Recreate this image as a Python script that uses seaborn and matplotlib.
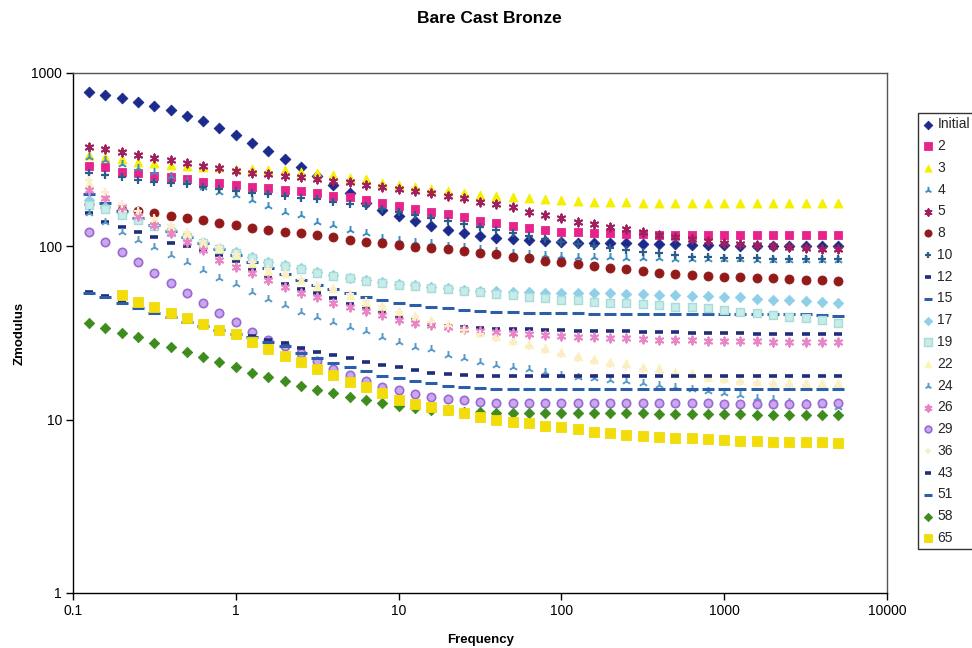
import numpy as np
import pandas as pd
import matplotlib
matplotlib.use("Agg")
import matplotlib.pyplot as plt
from matplotlib.ticker import FixedLocator, FixedFormatter, NullLocator
import seaborn as sns

# Measurement frequencies (Hz), 10 points per decade
freq = [0.126, 0.158, 0.2, 0.251, 0.316, 0.398, 0.501, 0.631, 0.794, 1.0,
        1.26, 1.58, 2.0, 2.51, 3.16, 3.98, 5.01, 6.31, 7.94, 10.0,
        12.6, 15.8, 20.0, 25.1, 31.6, 39.8, 50.1, 63.1, 79.4, 100.0,
        126, 158, 200, 251, 316, 398, 501, 631, 794, 1000,
        1259, 1585, 1995, 2512, 3162, 3981, 5012]

# Impedance modulus for each exposure
z_initial = [774, 747, 714, 683, 645, 609, 565, 528, 482, 439, 396, 355, 318, 286, 255, 226, 202, 178, 162, 150,
             140, 131, 124, 120, 115, 112, 110, 109, 107, 105.5, 105, 105, 104.5, 104, 103,
             103, 102.5, 102, 102, 101.5, 101, 101, 101, 100.5, 100, 100, 100]
z_2 = [291, 286, 269.5, 264, 255, 250, 244.5, 236, 231, 226, 221, 216, 211, 209, 204, 195, 192, 185, 178.5, 171,
       164, 158.5, 153, 147, 140.5, 135.5, 131.5, 127, 124, 121.5, 120.5, 120, 119, 118, 117.5,
       117, 116.7, 116.2, 116.2, 116.2, 116.2, 116, 116, 116, 116, 116, 116]
z_3 = [336, 327.5, 319, 308, 302.5, 296.5, 292.5, 288.5, 285, 281, 279, 277.5, 275.5, 270, 265, 258, 249.5, 243.5, 231, 226,
       219, 213, 208.5, 204, 197.5, 195, 192, 189, 186.5, 185, 183.3, 181, 180, 179.5, 178.5,
       178.5, 178.5, 178, 178, 178, 178, 178, 178, 178, 178, 178, 178]
z_4 = [327.5, 315, 298.5, 283, 268.5, 255, 238, 219, 206, 197.5, 185, 171, 158.5, 151.5, 138.5, 132.5, 124, 119.5, 111.5, 109,
       106.5, 104, 101, 98.5, 96, 94, 92, 90.3, 89, 88, 87.3, 86.8, 86.4, 86.1, 85.6,
       85.2, 85, 84.7, 84.5, 84.5, 84.1, 83.8, 83.6, 83.6, 83.4, 83.4, 83.4]
z_5 = [372.5, 363, 351.5, 336, 324.5, 315, 301, 291, 282, 272, 266, 261.5, 256, 251, 243, 239, 233.5, 227, 220, 215.5,
       209.5, 202, 195, 189, 181, 175, 168, 158.5, 151.5, 145, 138.5, 134.5, 130, 125.5, 121.5,
       116, 113, 110, 107.5, 105, 103, 101.5, 100.5, 99, 98, 97, 96.5]
z_8 = [175.5, 168.5, 163, 159, 155, 150, 145, 142, 137, 132.5, 127, 124, 121.5, 119, 116, 112.5, 109.5, 106.5, 104, 101.5,
       99.5, 98, 96, 94.5, 92, 90.3, 87, 85.3, 82.3, 81, 79, 77, 74.7, 73.7, 72.3,
       70.4, 69.2, 68.3, 67.4, 66.8, 66.2, 65.9, 65.4, 64.5, 63.9, 63.9, 63.1]
z_10 = [266, 258, 250, 241, 236, 233, 229, 221, 214, 208.5, 204, 199.5, 195, 190.5, 186.5, 180, 176.5, 171, 165, 158,
        151.5, 145.5, 140, 134.5, 129.5, 124, 119.5, 114.5, 110, 106.5, 103, 100.5, 98, 95, 93.3,
        91, 89, 87.3, 86.8, 86, 85.6, 85.6, 85, 85, 84.5, 84.5, 84.5]
z_12 = [155, 138.5, 130, 121.5, 113.5, 105, 100.5, 95, 89, 82.3, 73.7, 66.5, 61, 57, 53.5, 50.3, 46.5, 44.5, 42, 39.3,
        37.5, 35.5, 34.7, 34.4, 33.6, 33.2, 33.2, 33.2, 32.9, 32.9, 32.6, 32.4, 32.4, 32.4, 32.2,
        32, 32, 31.8, 31.8, 31.6, 31.6, 31.4, 31.4, 31.4, 31.4, 31.4, 31.4]
z_15 = [200, 177, 160, 145.5, 132.5, 122.5, 113, 104.5, 96.5, 89, 81, 75, 69, 64, 60, 57, 53.5, 51, 49, 47.3,
        45.8, 44.8, 43.9, 42.9, 42.3, 41.9, 41.6, 41.5, 41.3, 41.2, 41, 40.9, 40.7, 40.7, 40.7,
        40.7, 40.7, 40.7, 40.7, 40.7, 40.7, 40.7, 40.7, 40.7, 40.7, 40.1, 39.6]
z_17 = [185, 168.5, 155.5, 143.5, 132.5, 123.5, 114.5, 106, 98, 93, 87, 81.5, 78, 74.7, 71.4, 68.3, 66, 64, 62, 60.5,
        59.8, 58.5, 57.5, 56.3, 55.6, 55, 54.5, 54.2, 53.8, 53.8, 53.8, 53.8, 53.6, 53.4, 53,
        52.7, 52.4, 52, 51.7, 51, 50.7, 50, 49.3, 49, 48.3, 47.7, 47.3]
z_19 = [173, 164, 151.5, 141, 131, 121.5, 113, 104.5, 96.5, 92, 85.6, 80.6, 77.5, 74, 70.6, 67.8, 65.4, 63.3, 61.4, 60.2,
        59, 57.8, 56.7, 55.6, 54.5, 53.4, 52.4, 51.3, 50.3, 49.3, 48.7, 48, 47.3, 46.9, 46.3,
        45.8, 44.8, 44.5, 43.9, 42.9, 41.9, 41, 40.1, 39.3, 38.4, 37.6, 36.1]
z_22 = [231, 197.5, 169, 158.5, 143.5, 130, 119, 105, 97.4, 89, 80, 72.3, 70, 64, 59, 57.2, 52.4, 47.9, 45.2, 42.3,
        39.6, 37.6, 35.6, 33.8, 32, 30.4, 28.8, 27.3, 25.9, 24.5, 23.4, 22.5, 21.6, 21.1, 20.2,
        19.8, 18.9, 18.5, 17.7, 17.3, 16.9, 16.7, 16.5, 16.4, 16.3, 16.2, 16.2]
z_24 = [155, 138.5, 121.5, 109.5, 99.5, 89, 81.5, 73, 66, 60.5, 54.7, 49.6, 45.6, 41.9, 39.3, 36.6, 34.2, 32.3, 29.8, 28.2,
        26.3, 25.5, 23.6, 22.6, 21.6, 20.7, 20.2, 19.5, 18.9, 18.1, 17.7, 17.3, 16.9, 16.7, 16.3,
        15.8, 15.4, 15, 14.6, 14.2, 13.8, 13.4, 13.1, 12.7, 12.5, 12.1, 11.9]
z_26 = [211, 189, 168.5, 150, 132.5, 119, 106.5, 95, 83.5, 76.3, 70, 64, 58.5, 53.6, 51.2, 47.1, 44.8, 42.3, 40.1, 37.6,
        36.2, 35.1, 34.4, 33.2, 32.6, 32.2, 31.7, 31.4, 30.8, 30.4, 30.1, 29.8, 29.5, 29.5, 29.1,
        28.9, 28.8, 28.7, 28.5, 28.4, 28.4, 28.3, 28.2, 28.1, 28.1, 28.1, 28.1]
z_29 = [121.5, 106.5, 93, 81.5, 70.4, 61.2, 53.6, 46.9, 41, 36.6, 32.2, 28.8, 26.6, 24.2, 21.8, 19.7, 18.1, 16.8, 15.5, 14.8,
        14, 13.6, 13.1, 12.9, 12.7, 12.5, 12.4, 12.4, 12.4, 12.4, 12.4, 12.4, 12.4, 12.4, 12.4,
        12.4, 12.4, 12.4, 12.4, 12.3, 12.3, 12.3, 12.3, 12.3, 12.3, 12.4, 12.4]
z_36 = [240, 205, 176, 160, 146, 133, 121, 108, 99, 90, 81, 74, 69.5, 65, 60, 57, 53, 48.5, 45, 42,
        39, 36.8, 34.8, 33, 31.3, 29.6, 28, 26.6, 25.2, 23.9, 22.8, 21.8, 20.9, 20.2, 19.5,
        18.9, 18.3, 17.8, 17.3, 16.9, 16.6, 16.3, 16.1, 15.9, 15.8, 15.7, 15.6]
z_43 = [54.7, 51.7, 47.9, 44.5, 41.9, 39.6, 37.1, 35.1, 33.1, 31.6, 30.4, 28.8, 27.6, 25.8, 24.7, 23.6, 22.6, 21.6, 20.7, 20,
        19.3, 18.7, 18.3, 18.1, 17.9, 17.8, 17.8, 17.8, 17.8, 17.8, 17.8, 17.8, 17.8, 17.8, 17.8,
        17.8, 17.8, 17.8, 17.8, 17.8, 17.8, 17.8, 17.8, 17.8, 17.8, 17.8, 17.8]
z_51 = [54.1, 51, 47.4, 44.1, 41.5, 39.1, 36.6, 34.7, 32.7, 31.2, 29.8, 28.2, 26.6, 24.1, 22.6, 21.1, 20, 19.1, 17.9, 17.3,
        16.8, 16.2, 15.6, 15.4, 15.2, 15.1, 15.1, 15.1, 15.1, 15.1, 15.1, 15.1, 15.1, 15.1, 15.1,
        15.1, 15.1, 15.1, 15.1, 15.1, 15.1, 15.1, 15.1, 15.1, 15.1, 15.1, 15.1]
z_58 = [36.2, 33.6, 31.7, 29.8, 27.8, 26.1, 24.7, 23.1, 21.6, 20.2, 18.7, 17.7, 16.7, 15.6, 14.8, 14.2, 13.6, 12.9, 12.4, 12,
        11.6, 11.4, 11.3, 11.1, 11, 10.96, 10.9, 10.9, 10.9, 10.9, 10.9, 10.9, 10.9, 10.9, 10.9,
        10.85, 10.8, 10.8, 10.8, 10.75, 10.75, 10.7, 10.7, 10.7, 10.6, 10.6, 10.6]
z_65 = [None, None, 52.4, 47.9, 44.8, 41.4, 38.4, 35.6, 32.9, 31, 28, 25.6, 23.3, 21.4, 19.6, 18, 16.6, 15.4, 14.2, 13,
        12.3, 11.9, 11.4, 10.9, 10.4, 10, 9.72, 9.52, 9.19, 9.03, 8.79, 8.52, 8.4, 8.15, 8.04,
        7.97, 7.86, 7.8, 7.7, 7.64, 7.57, 7.55, 7.48, 7.48, 7.42, 7.42, 7.38]

series_labels = ["Initial", "2", "3", "4", "5", "8", "10", "12", "15", "17",
                 "19", "22", "24", "26", "29", "36", "43", "51", "58", "65"]
series_values = [z_initial, z_2, z_3, z_4, z_5, z_8, z_10, z_12, z_15, z_17,
                 z_19, z_22, z_24, z_26, z_29, z_36, z_43, z_51, z_58, z_65]

x_ticks = [0.1, 1, 10, 100, 1000, 10000]
x_tick_labels = ["0.1", "1", "10", "100", "1000", "10000"]
y_ticks = [1, 10, 100, 1000]
y_tick_labels = ["1", "10", "100", "1000"]

# Marker style per exposure: (marker, colour, size, face colour, line width)
asterisk = (6, 2, 0)
styles = {
    "Initial": ("D", "#1B2A8C", 30, None, 0.6),
    "2": ("s", "#E8248C", 40, None, 0.6),
    "3": ("^", "#F5F000", 42, None, 0.6),
    "4": ("2", "#3F8FBF", 42, None, 1.4),
    "5": (asterisk, "#A0205F", 34, None, 1.4),
    "8": ("o", "#931A1A", 42, None, 0.6),
    "10": ("+", "#2D5C8A", 36, None, 1.6),
    "12": ("_", "#1F2D7A", 36, None, 2.6),
    "15": ("_", "#2D5FA8", 64, None, 2.2),
    "17": ("D", "#8FD0E8", 28, None, 0.6),
    "19": ("s", "#A8DCD8", 40, "#C8ECEA", 1.0),
    "22": ("^", "#FAF6B0", 38, None, 0.6),
    "24": ("2", "#5B9BC8", 42, None, 1.4),
    "26": (asterisk, "#E884C8", 34, None, 1.4),
    "29": ("o", "#9A6ACF", 36, "#C9A8F0", 1.2),
    "36": ("+", "#FBEBD0", 36, None, 1.6),
    "43": ("_", "#1F2D7A", 36, None, 2.6),
    "51": ("_", "#2D5FA8", 64, None, 2.2),
    "58": ("D", "#3E8C1E", 28, None, 0.6),
    "65": ("s", "#F2DC0A", 42, None, 0.6),
}

sns.set_theme(style="white")
plt.rcParams["font.family"] = ["Liberation Sans", "DejaVu Sans"]

fig = plt.figure(figsize=(9.72, 6.48), dpi=100)
ax = fig.add_axes([73 / 972, 1 - 593 / 648, 814 / 972, 520 / 648])

for label, values in zip(series_labels, series_values):
    marker, color, size, face, lw = styles[label]
    df = pd.DataFrame({"Frequency": freq, "Zmodulus": pd.to_numeric(values)})
    kws = dict(marker=marker, s=size, linewidth=lw, label=label, legend=False, ax=ax)
    if marker in ("D", "s", "^", "o"):
        kws["color"] = face if face else color
        kws["edgecolor"] = color
    else:
        kws["color"] = color
    sns.scatterplot(data=df, x="Frequency", y="Zmodulus", **kws)

ax.set_xscale("log")
ax.set_yscale("log")
ax.set_xlim(0.1, 10000)
ax.set_ylim(1, 1000)
ax.xaxis.set_major_locator(FixedLocator(x_ticks))
ax.xaxis.set_major_formatter(FixedFormatter(x_tick_labels))
ax.yaxis.set_major_locator(FixedLocator(y_ticks))
ax.yaxis.set_major_formatter(FixedFormatter(y_tick_labels))
ax.xaxis.set_minor_locator(NullLocator())
ax.yaxis.set_minor_locator(NullLocator())
ax.tick_params(axis="both", which="major", direction="out", length=5, width=1,
               color="black", labelsize=10, pad=3, bottom=True, left=True,
               labelcolor="black")

for side in ("left", "bottom"):
    ax.spines[side].set_color("black")
    ax.spines[side].set_linewidth(1.0)
for side in ("top", "right"):
    ax.spines[side].set_color("#555555")
    ax.spines[side].set_linewidth(1.0)
ax.grid(False)

ax.set_xlabel("Frequency", fontsize=9.5, fontweight="bold", color="black")
ax.xaxis.set_label_coords(0.501, -0.0904)
ax.xaxis.label.set_va("center")
ax.set_ylabel("Zmodulus", fontsize=9.5, fontweight="bold", color="black")
ax.yaxis.set_label_coords(-0.065, 0.5)
ax.yaxis.label.set_va("center")

fig.text(0.503, 0.971, "Bare Cast Bronze", ha="center", va="center",
         fontsize=12.5, fontweight="bold", color="black")

handles, labels = ax.get_legend_handles_labels()
leg = fig.legend(handles, labels, loc="upper left",
                 bbox_to_anchor=(918 / 972, 1 - 113 / 648),
                 bbox_transform=fig.transFigure, frameon=True, fancybox=False,
                 edgecolor="black", fontsize=10, handlelength=0.8,
                 handletextpad=0.3, labelspacing=0.56, borderpad=0.3,
                 borderaxespad=0, scatterpoints=1, markerscale=0.8)
leg.get_frame().set_linewidth(1.0)

fig.savefig("out.png", dpi=100)
